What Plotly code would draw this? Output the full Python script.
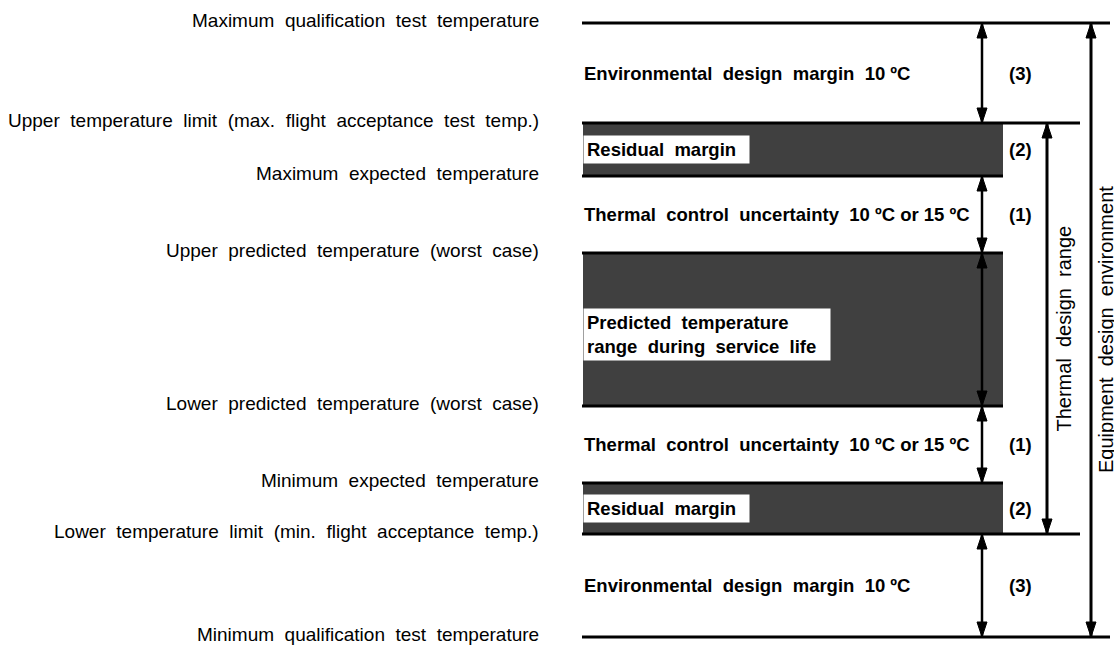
import plotly.graph_objects as go

# Temperature levels (schematic position, top to bottom)
level_labels = [
    "Maximum  qualification  test  temperature",
    "Upper  temperature  limit  (max.  flight  acceptance  test  temp.)",
    "Maximum  expected  temperature",
    "Upper  predicted  temperature  (worst  case)",
    "Lower  predicted  temperature  (worst  case)",
    "Minimum  expected  temperature",
    "Lower  temperature  limit  (min.  flight  acceptance  temp.)",
    "Minimum  qualification  test  temperature",
]
level_values = [61.4, 51.4, 46.1, 38.4, 23.1, 15.4, 10.3, 0.0]
level_kind = ["qual", "limit", "inner", "inner", "inner", "inner", "limit", "qual"]

# Zones between consecutive levels
zone_labels = [
    "Environmental  design  margin  10 ºC",
    "Residual  margin  ",
    "Thermal  control  uncertainty  10 ºC or 15 ºC",
    "Predicted  temperature<br>range  during  service  life  ",
    "Thermal  control  uncertainty  10 ºC or 15 ºC",
    "Residual  margin  ",
    "Environmental  design  margin  10 ºC",
]
zone_codes = ["(3)", "(2)", "(1)", "", "(1)", "(2)", "(3)"]
zone_shaded = [False, True, False, True, False, True, False]
zone_arrow = [True, False, True, True, True, False, True]

# Overall ranges (index of upper level, index of lower level)
range_labels = ["Thermal  design  range", "Equipment  design  environment"]
range_levels = [(1, 6), (0, 7)]

# ---- layout constants (pixel-like x, schematic y) ----
X_LEFT = 582
X_INNER = 1003
X_END = {"qual": 1110, "limit": 1080, "inner": 1003}
X_ZONE_ARROW = 982
X_RANGE = [1047, 1091]
X_RANGE_TEXT = [1063, 1106]
X_CODE = 1020
X_LABEL = 541
LABEL_LIFT = 0.3
HEAD_L = 1.5   # arrowhead length (y units)
HEAD_W = 5     # arrowhead half width (x units)
INK = "#000000"
DARK = "#404040"
FONT = "Liberation Sans, Arial, sans-serif"

fig = go.Figure()
shapes = []
annotations = []


def head(x, tip, direction):
    # direction +1: points up (base below tip), -1: points down
    base = tip - direction * HEAD_L
    return dict(type="path", xref="x", yref="y",
                path=f"M {x - HEAD_W},{base} L {x + HEAD_W},{base} L {x},{tip} Z",
                fillcolor=INK, line=dict(color=INK, width=1))


def double_arrow(x, top, bottom, width=2.5):
    out = [dict(type="line", xref="x", yref="y", x0=x, x1=x, y0=top, y1=bottom,
                line=dict(color=INK, width=width))]
    out.append(head(x, top, +1))
    out.append(head(x, bottom, -1))
    return out


# shaded bands
for i, shaded in enumerate(zone_shaded):
    top, bot = level_values[i], level_values[i + 1]
    if shaded:
        shapes.append(dict(type="rect", xref="x", yref="y", x0=X_LEFT + 1, x1=X_INNER,
                           y0=bot, y1=top, fillcolor=DARK, line=dict(width=0), layer="below"))

# level lines
for v, k in zip(level_values, level_kind):
    shapes.append(dict(type="line", xref="x", yref="y", x0=X_LEFT, x1=X_END[k], y0=v, y1=v,
                       line=dict(color=INK, width=3)))

# zone arrows, texts, codes
for i, lab in enumerate(zone_labels):
    top, bot = level_values[i], level_values[i + 1]
    mid = (top + bot) / 2
    if zone_arrow[i]:
        shapes += double_arrow(X_ZONE_ARROW, top, bot)
    boxed = zone_shaded[i]
    annotations.append(dict(
        x=X_LEFT + 1, y=mid - (0.45 if "<br>" in lab else 0), xref="x", yref="y",
        text="<b>" + lab + "</b>", showarrow=False, xanchor="left", yanchor="middle",
        align="left", font=dict(family=FONT, size=18.5, color=INK),
        bgcolor="white" if boxed else "rgba(0,0,0,0)",
        borderpad=3 if boxed else 0))
    if zone_codes[i]:
        annotations.append(dict(
            x=X_CODE, y=mid, xref="x", yref="y", text="<b>" + zone_codes[i] + "</b>",
            showarrow=False, xanchor="center", yanchor="middle",
            font=dict(family=FONT, size=18.5, color=INK)))

# range arrows
for j, (a, b) in enumerate(range_levels):
    top, bot = level_values[a], level_values[b]
    shapes += double_arrow(X_RANGE[j], top, bot, width=3)
    annotations.append(dict(
        x=X_RANGE_TEXT[j], y=(top + bot) / 2, xref="x", yref="y", text=range_labels[j],
        showarrow=False, textangle=-90, xanchor="center", yanchor="middle",
        font=dict(family=FONT, size=20, color=INK)))

# level labels on the left
for lab, v in zip(level_labels, level_values):
    annotations.append(dict(
        x=X_LABEL, y=v + LABEL_LIFT, xref="x", yref="y", text=lab, showarrow=False,
        xanchor="right", yanchor="middle", font=dict(family=FONT, size=19, color=INK)))

fig.update_layout(
    width=1114, height=646, margin=dict(l=0, r=0, t=0, b=0),
    paper_bgcolor="white", plot_bgcolor="white", showlegend=False,
    xaxis=dict(range=[0, 1114], visible=False, fixedrange=True),
    yaxis=dict(range=[-0.9, 63.7], visible=False, fixedrange=True),
    shapes=shapes, annotations=annotations,
)

fig.write_html(
    "out.html",
    config={"displayModeBar": False},
    post_script="document.body.style.margin='0px';document.body.style.overflow='hidden';",
)
